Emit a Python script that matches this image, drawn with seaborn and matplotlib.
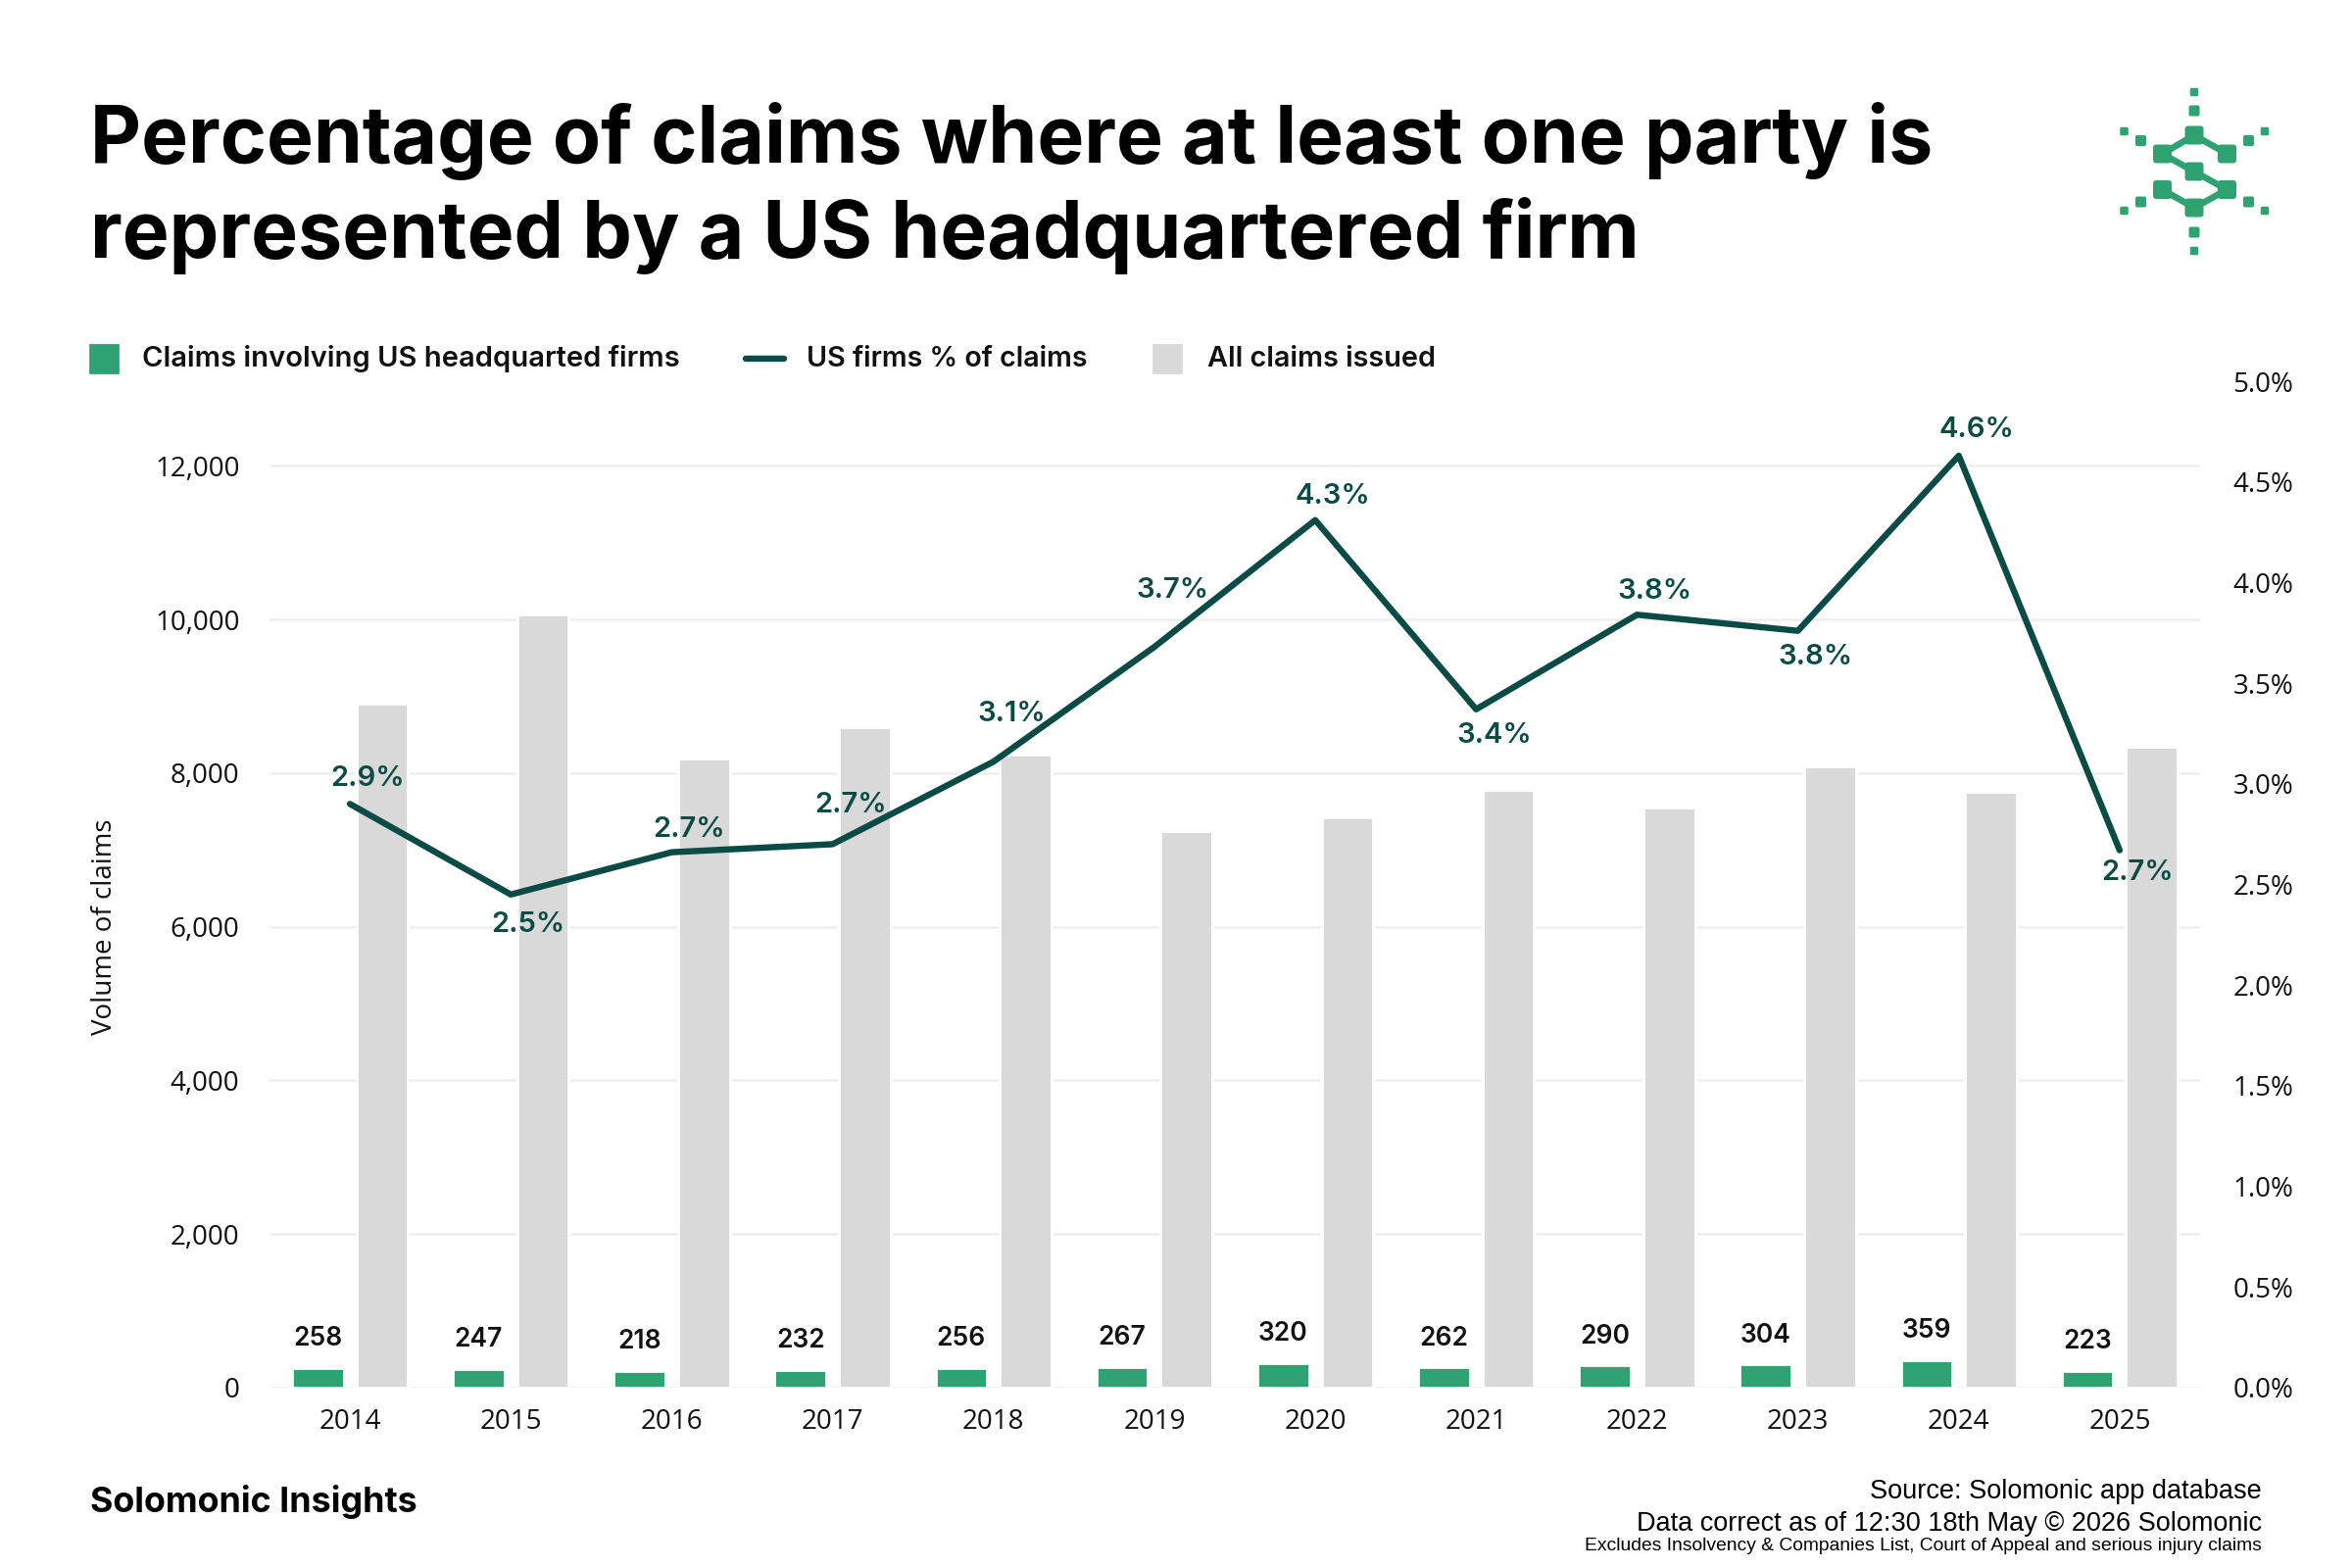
import numpy as np
import pandas as pd
import matplotlib
matplotlib.use("Agg")
import matplotlib.pyplot as plt
import seaborn as sns
from matplotlib.patches import FancyBboxPatch, Rectangle
from matplotlib.lines import Line2D
from matplotlib.ticker import FuncFormatter

# data
years = ["2014", "2015", "2016", "2017", "2018", "2019",
         "2020", "2021", "2022", "2023", "2024", "2025"]
us_claims = [258, 247, 218, 232, 256, 267, 320, 262, 290, 304, 359, 223]
all_claims = [8900, 10070, 8190, 8600, 8240, 7250, 7420, 7780, 7550, 8090, 7750, 8340]
us_pct = [2.90, 2.45, 2.66, 2.70, 3.11, 3.68, 4.31, 3.37, 3.84, 3.76, 4.63, 2.67]

# label offsets for the % labels (points, + above / - below the line)
pct_dy = [9.4, -11.2, 8.3, 14.4, 17.6, 20.9, 8.6, -9.7, 8.6, -9.7, 9.7, -8.3]

GREEN = "#2FA272"
GREY = "#D9D9D9"
TEAL = "#0B4B46"
GRID = "#EEEEEE"

sns.set_theme(style="white")
plt.rcParams["font.family"] = ["Open Sans", "DejaVu Sans"]
HEAD = ["Inter", "Lato", "DejaVu Sans"]

df = pd.DataFrame({
    "year": years * 2,
    "value": us_claims + all_claims,
    "series": ["us"] * len(years) + ["all"] * len(years),
})

W, H = 2400, 1600
fig = plt.figure(figsize=(12, 8), dpi=200)
ax = fig.add_axes([275 / W, 1 - 1416 / H, 1970 / W, 1027 / H])

sns.barplot(data=df, x="year", y="value", hue="series", hue_order=["us", "all"],
            palette=[GREEN, GREY], saturation=1, width=0.8, gap=0.2,
            errorbar=None, legend=False, ax=ax, zorder=2)

ax.set_xlim(-0.5, len(years) - 0.5)
ax.set_ylim(0, 13100)
ax.set_yticks(np.arange(0, 12001, 2000))
ax.yaxis.set_major_formatter(FuncFormatter(lambda v, p: f"{v:,.0f}"))
ax.set_axisbelow(True)
ax.yaxis.grid(True, color=GRID, lw=0.9)
ax.set_xlabel("")
ax.set_ylabel("")
for s in ax.spines.values():
    s.set_visible(False)
ax.tick_params(axis="y", length=0, pad=11, labelsize=10, labelcolor="#111111")
ax.tick_params(axis="x", length=0, pad=7.5, labelsize=10, labelcolor="#111111")

# value labels over the green bars
for x, v in enumerate(us_claims):
    ax.annotate(f"{v}", (x - 0.2, v), xytext=(0, 6), textcoords="offset points",
                ha="center", va="bottom", fontsize=9.5, fontweight="semibold",
                family=HEAD, color="#111111")

# line on the right axis
ax2 = ax.twinx()
sns.lineplot(x=np.arange(len(years)), y=us_pct, ax=ax2, color=TEAL, lw=2.3,
             zorder=3)
ax2.set_ylim(0, 5.0)
ax2.set_yticks(np.arange(0, 5.01, 0.5))
ax2.yaxis.set_major_formatter(FuncFormatter(lambda v, p: f"{v:.1f}%"))
ax2.tick_params(axis="y", length=0, pad=12, labelsize=10, labelcolor="#111111")
for s in ax2.spines.values():
    s.set_visible(False)
ax2.set_xlim(-0.5, len(years) - 0.5)

for x, (v, dy) in enumerate(zip(us_pct, pct_dy)):
    ax2.annotate(f"{v:.1f}%", (x, v), xytext=(6.5, dy), textcoords="offset points",
                 ha="center", va="center", fontsize=10.5, fontweight="semibold",
                 family=HEAD, color=TEAL)

fig.text(107 / W, 1 - 946 / H, "Volume of claims", rotation=90, ha="center",
         va="center", fontsize=10, color="#111111")

# title
fig.text(92 / W, 1 - 166 / H, "Percentage of claims where at least one party is",
         ha="left", va="baseline", fontsize=29, fontweight="bold", family=HEAD,
         color="#000000")
fig.text(92 / W, 1 - 263 / H, "represented by a US headquartered firm",
         ha="left", va="baseline", fontsize=29, fontweight="bold", family=HEAD,
         color="#000000")

# legend
ly = 1 - 366 / H
fig.patches.append(Rectangle((92 / W, 1 - 380 / H), 28 / W, 28 / H,
                             transform=fig.transFigure, color=GREEN))
fig.text(145 / W, ly, "Claims involving US headquarted firms", va="center",
         fontsize=10.5, fontweight="semibold", family=HEAD, color="#111111")
fig.lines.append(Line2D([761 / W, 800 / W], [ly, ly], transform=fig.transFigure,
                        color=TEAL, lw=2.3))
fig.text(823 / W, ly, "US firms % of claims", va="center",
         fontsize=10.3, fontweight="semibold", family=HEAD, color="#111111")
fig.patches.append(Rectangle((1177 / W, 1 - 380 / H), 28 / W, 28 / H,
                             transform=fig.transFigure, color=GREY))
fig.text(1232 / W, ly, "All claims issued", va="center",
         fontsize=10.4, fontweight="semibold", family=HEAD, color="#111111")

# footer
fig.text(92 / W, 1 - 1543 / H, "Solomonic Insights", va="baseline",
         fontsize=12.9, fontweight="bold", family=HEAD, color="#000000")
fig.text(2308 / W, 1 - 1529 / H, "Source: Solomonic app database", ha="right",
         va="baseline", fontsize=9.75, family="Liberation Sans", color="#000000")
fig.text(2308 / W, 1 - 1562 / H, "Data correct as of 12:30 18th May \u00a9 2026 Solomonic",
         ha="right", va="baseline", fontsize=9.75, family="Liberation Sans",
         color="#000000")
fig.text(2308 / W, 1 - 1582 / H,
         "Excludes Insolvency & Companies List, Court of Appeal and serious injury claims",
         ha="right", va="baseline", fontsize=6.95, family="Liberation Sans",
         color="#000000")

# logo
lg = fig.add_axes([2150 / W, 1 - 270 / H, 180 / W, 190 / H])
lg.set_xlim(2150, 2330)
lg.set_ylim(270, 80)
lg.axis("off")
nodes = {"t": (2239, 138), "lu": (2206.5, 157), "ru": (2272.5, 157),
         "m": (2239, 175), "ll": (2206.5, 193.5), "rl": (2272.5, 193.5),
         "b": (2239, 212)}
for a, b in [("lu", "t"), ("t", "ru"), ("lu", "m"), ("m", "rl"),
             ("ll", "b"), ("b", "rl")]:
    lg.plot([nodes[a][0], nodes[b][0]], [nodes[a][1], nodes[b][1]],
            color=GREEN, lw=2.4, solid_capstyle="round")


def sq(cx, cy, s):
    lg.add_patch(FancyBboxPatch((cx - s / 2 + s * 0.18, cy - s / 2 + s * 0.18),
                                s * 0.64, s * 0.64,
                                boxstyle=f"round,pad={s * 0.18}",
                                color=GREEN, lw=0))


for cx, cy in nodes.values():
    sq(cx, cy, 19)
for cx, cy in [(2239, 113), (2239, 237), (2184.5, 143.5), (2294.5, 143.5),
               (2184.5, 206), (2294.5, 206)]:
    sq(cx, cy, 11)
for cx, cy in [(2239, 94), (2239, 256), (2167.5, 134), (2311, 134),
               (2167.5, 215), (2311, 215)]:
    sq(cx, cy, 8.5)

fig.savefig("out.png", dpi=200, facecolor="white")
